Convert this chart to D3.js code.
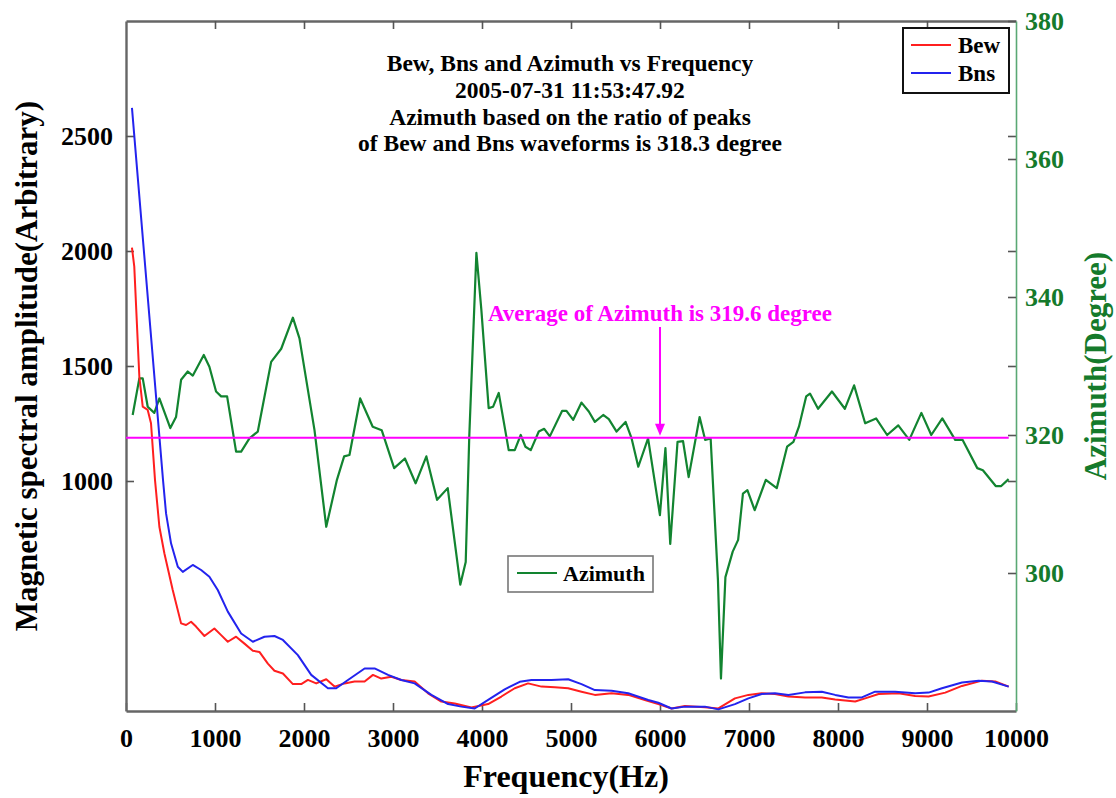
<!DOCTYPE html>
<html>
<head>
<meta charset="utf-8">
<script src="https://cdn.jsdelivr.net/npm/d3@7/dist/d3.min.js"></script>
<style>
  html, body { margin: 0; padding: 0; background: #fff; }
  svg { display: block; }
  text { font-family: "Liberation Serif", "Times New Roman", serif; font-weight: bold; }
</style>
</head>
<body>
<svg id="chart" width="1116" height="798"></svg>
<script>
// ---- Data -------------------------------------------------------------
// East-west magnetic spectral amplitude (Bew)
const bewFreq = [67, 93, 150, 188, 244, 281, 326, 375, 431, 525, 619, 675, 731, 787, 881, 993, 1069, 1144, 1237, 1331,
  1425, 1499, 1594, 1668, 1763, 1875, 1969, 2044, 2137, 2250, 2343, 2456, 2568, 2681, 2775, 2868, 2981, 3093, 3243, 3394,
  3543, 3693, 3881, 4069, 4218, 4368, 4518, 4668, 4818, 4968, 5118, 5268, 5456, 5643, 5830, 5981, 6130, 6280, 6505, 6656,
  6842, 6993, 7143, 7292, 7443, 7630, 7818, 7968, 8193, 8305, 8456, 8681, 8867, 9018, 9205, 9393, 9618, 9767, 9918];
const bew = [2015, 1932, 1453, 1323, 1309, 1251, 1004, 801, 686, 526, 381, 374, 388, 367, 326, 359, 330, 301, 323, 293,
  262, 257, 206, 175, 163, 117, 117, 135, 120, 138, 106, 120, 128, 128, 157, 141, 149, 135, 128, 77,
  41, 33, 15, 30, 63, 99, 120, 106, 103, 99, 84, 70, 77, 70, 48, 30, 11, 22, 16, 11,
  55, 70, 77, 74, 63, 59, 59, 50, 41, 55, 74, 77, 65, 63, 80, 109, 132, 128, 106];

// North-south magnetic spectral amplitude (Bns)
const bnsFreq = [67, 416, 450, 506, 582, 638, 750, 844, 937, 1031, 1144, 1294, 1425, 1556, 1668, 1763, 1931, 2081, 2269,
  2362, 2494, 2681, 2793, 2944, 3093, 3243, 3431, 3619, 3768, 3918, 4069, 4255, 4424, 4556, 4781, 4968, 5118, 5268, 5456,
  5643, 5868, 5981, 6130, 6280, 6505, 6656, 6842, 6993, 7143, 7292, 7443, 7630, 7818, 7968, 8118, 8268, 8417, 8642, 8867,
  9018, 9168, 9393, 9580, 9730, 9918];
const bns = [2622, 1004, 859, 729, 627, 605, 635, 613, 584, 526, 432, 337, 301, 323, 326, 309, 243, 157, 99,
  99, 135, 185, 185, 157, 135, 120, 70, 30, 19, 11, 48, 94, 127, 135, 135, 138, 117, 91, 88,
  77, 48, 36, 11, 19, 19, 7, 30, 55, 74, 77, 70, 81, 84, 70, 59, 59, 84, 84, 77,
  80, 99, 124, 132, 128, 106];

// Azimuth (degree) per frequency
const azFreq = [75, 150, 188, 244, 318, 375, 498, 562, 619, 694, 750, 874, 937, 1012, 1069, 1136, 1237, 1294, 1387, 1481,
  1631, 1744, 1875, 1949, 2118, 2250, 2370, 2451, 2511, 2631, 2772, 2873, 3013, 3134, 3254, 3375, 3495, 3615, 3756, 3817,
  3857, 3937, 3993, 4075, 4125, 4188, 4300, 4368, 4435, 4488, 4548, 4638, 4699, 4762, 4901, 4949, 5025, 5118, 5200, 5268,
  5362, 5425, 5512, 5613, 5681, 5756, 5866, 5999, 6061, 6115, 6197, 6259, 6322, 6445, 6507, 6569, 6651, 6685, 6735, 6817,
  6878, 6932, 6982, 7064, 7189, 7312, 7428, 7499, 7561, 7643, 7685, 7776, 7932, 8077, 8181, 8305, 8428, 8552, 8677, 8801,
  8937, 9048, 9172, 9317, 9399, 9565, 9628, 9772, 9834, 9917];
const azimuth = [322.9, 328.2, 328.2, 324.1, 323.2, 325.3, 321.0, 322.6, 328.0, 329.2, 328.6, 331.6, 329.9, 326.3, 325.6, 325.6, 317.6, 317.6, 319.5, 320.5,
  330.6, 332.5, 337.0, 334.0, 320.7, 306.7, 313.5, 316.9, 317.1, 325.3, 321.2, 320.7, 315.2, 316.6, 313.0, 316.9, 310.6, 312.3, 298.3, 301.6,
  319.8, 346.4, 338.1, 323.9, 324.1, 326.1, 317.8, 317.8, 320.0, 318.3, 317.8, 320.5, 320.9, 319.8, 323.5, 323.5, 322.2, 324.7, 323.4, 321.9,
  322.9, 322.3, 320.5, 321.9, 319.5, 315.4, 319.5, 308.4, 318.1, 304.2, 319.0, 319.1, 313.9, 322.6, 319.3, 319.5, 299.0, 284.7, 299.4, 303.1,
  304.8, 311.5, 312.0, 309.1, 313.5, 312.3, 318.3, 319.0, 321.2, 325.6, 326.0, 323.8, 326.3, 323.8, 327.2, 321.7, 322.4, 320.0, 321.4, 319.3,
  323.2, 320.0, 322.4, 319.3, 319.3, 315.2, 314.9, 312.6, 312.6, 313.6];

const avgAzimuth = 319.6;
const avgMarkFreq = 6000;
const avgEndFreq = 9918;

const xTicks = [0, 1000, 2000, 3000, 4000, 5000, 6000, 7000, 8000, 9000, 10000];
const leftTicks = [1000, 1500, 2000, 2500];
const rightTicks = [300, 320, 340, 360, 380];

const titleLines = [
  "Bew, Bns and Azimuth vs Frequency",
  "2005-07-31 11:53:47.92",
  "Azimuth based on the ratio of peaks",
  "of Bew and Bns waveforms is 318.3 degree"
];
const avgLabel = "Average of Azimuth is 319.6 degree";

// ---- Layout -----------------------------------------------------------
const L = 126, R = 1016, T = 21, B = 711;
const boxColor = "#666";
const axisGreen = "#5aa874";
const textGreen = "#157a2b";
const azColor = "#128430";
const bewColor = "#ff1f1f";
const bnsColor = "#2323ee";
const magenta = "#ff00ff";

const svg = d3.select("#chart");

const x = d3.scaleLinear().domain([0, 10000]).range([L, R]);
const yL = d3.scaleLinear().domain([0, 3000]).range([B, T]);
const yR = d3.scaleLinear().domain([280, 380]).range([B, T]);

// ---- Axes -------------------------------------------------------------
function styleAxis(g, color, labelColor, size) {
  g.select(".domain").attr("stroke", color).attr("stroke-width", 2.4);
  g.selectAll(".tick line").attr("stroke", "#555").attr("stroke-width", 1.6);
  g.selectAll(".tick text")
    .attr("fill", labelColor)
    .style("font-size", size + "px")
    .style("font-family", "'Liberation Serif', serif")
    .style("font-weight", "bold");
}

// top edge (ticks only)
svg.append("g")
  .attr("transform", `translate(0,${T})`)
  .call(d3.axisTop(x).tickValues(xTicks.slice(1, -1)).tickSize(-8).tickSizeOuter(0).tickFormat(""))
  .call(g => styleAxis(g, boxColor, "#000", 26));

// mirrored left-axis ticks on the right edge
svg.append("g")
  .attr("transform", `translate(${R},0)`)
  .call(d3.axisRight(yL).tickValues(leftTicks).tickSize(-8).tickSizeOuter(0).tickFormat(""))
  .call(g => { styleAxis(g, boxColor, "#000", 26); g.select(".domain").remove(); });

// bottom axis
svg.append("g")
  .attr("transform", `translate(0,${B})`)
  .call(d3.axisBottom(x).tickValues(xTicks).tickSize(-8).tickSizeOuter(0).tickPadding(18).tickFormat(d3.format("d")))
  .call(g => styleAxis(g, boxColor, "#000", 26));

// left axis
svg.append("g")
  .attr("transform", `translate(${L},0)`)
  .call(d3.axisLeft(yL).tickValues(leftTicks).tickSize(-8).tickSizeOuter(0).tickPadding(13).tickFormat(d3.format("d")))
  .call(g => styleAxis(g, boxColor, "#000", 26));

// right axis (azimuth)
svg.append("g")
  .attr("transform", `translate(${R},0)`)
  .call(d3.axisRight(yR).tickValues(rightTicks).tickSize(-8).tickSizeOuter(0).tickPadding(9).tickFormat(d3.format("d")))
  .call(g => { styleAxis(g, axisGreen, textGreen, 26); g.select(".domain").attr("stroke-width", 1.6); });

// ---- Curves -----------------------------------------------------------
const ampLine = d3.line().x(d => x(d[0])).y(d => yL(d[1]));
const azLine = d3.line().x(d => x(d[0])).y(d => yR(d[1]));

svg.append("path")
  .datum(d3.zip(azFreq, azimuth))
  .attr("d", azLine)
  .attr("fill", "none").attr("stroke", azColor).attr("stroke-width", 2.2)
  .attr("stroke-linejoin", "round");

svg.append("path")
  .datum(d3.zip(bewFreq, bew))
  .attr("d", ampLine)
  .attr("fill", "none").attr("stroke", bewColor).attr("stroke-width", 2)
  .attr("stroke-linejoin", "round");

svg.append("path")
  .datum(d3.zip(bnsFreq, bns))
  .attr("d", ampLine)
  .attr("fill", "none").attr("stroke", bnsColor).attr("stroke-width", 2)
  .attr("stroke-linejoin", "round");

// average azimuth line
svg.append("line")
  .attr("x1", x(0)).attr("x2", x(avgEndFreq))
  .attr("y1", yR(avgAzimuth)).attr("y2", yR(avgAzimuth))
  .attr("stroke", magenta).attr("stroke-width", 2.2);

// annotation arrow and text
const ax = x(avgMarkFreq), tipY = yR(avgAzimuth) - 2;
svg.append("line")
  .attr("x1", ax).attr("x2", ax).attr("y1", 327).attr("y2", tipY - 10)
  .attr("stroke", magenta).attr("stroke-width", 2);
svg.append("path")
  .attr("d", `M${ax - 5},${tipY - 12} L${ax + 5},${tipY - 12} L${ax},${tipY} Z`)
  .attr("fill", magenta);
svg.append("text")
  .attr("x", ax).attr("y", 321)
  .attr("text-anchor", "middle")
  .attr("fill", magenta)
  .style("font-size", "23px")
  .text(avgLabel);

// ---- Title ------------------------------------------------------------
const titleBase = [71, 98, 125, 151];
svg.append("g").selectAll("text")
  .data(titleLines)
  .join("text")
  .attr("x", 570)
  .attr("y", (d, i) => titleBase[i])
  .attr("text-anchor", "middle")
  .attr("fill", "#000")
  .style("font-size", "23.5px")
  .text(d => d);

// ---- Axis titles ------------------------------------------------------
svg.append("text")
  .attr("x", 566).attr("y", 787)
  .attr("text-anchor", "middle")
  .style("font-size", "32px")
  .text("Frequency(Hz)");

svg.append("text")
  .attr("transform", `translate(37,${(T + B) / 2}) rotate(-90)`)
  .attr("text-anchor", "middle")
  .style("font-size", "31px")
  .text("Magnetic spectral amplitude(Arbitrary)");

svg.append("text")
  .attr("transform", `translate(1106,${(T + B) / 2}) rotate(-90)`)
  .attr("text-anchor", "middle")
  .attr("fill", textGreen)
  .style("font-size", "31px")
  .text("Azimuth(Degree)");

// ---- Legends ----------------------------------------------------------
const legAmp = svg.append("g");
legAmp.append("rect")
  .attr("x", 903).attr("y", 28).attr("width", 106).attr("height", 65)
  .attr("fill", "#fff").attr("stroke", "#111").attr("stroke-width", 2);
[["Bew", bewColor, 45], ["Bns", bnsColor, 73]].forEach(([name, color, ly]) => {
  legAmp.append("line").attr("x1", 911).attr("x2", 951).attr("y1", ly).attr("y2", ly)
    .attr("stroke", color).attr("stroke-width", 2);
  legAmp.append("text").attr("x", 958).attr("y", ly).attr("dy", "0.35em")
    .style("font-size", "23px").text(name);
});

const legAz = svg.append("g");
legAz.append("rect")
  .attr("x", 508).attr("y", 556).attr("width", 145).attr("height", 36)
  .attr("fill", "#fff").attr("stroke", "#777").attr("stroke-width", 1.6);
legAz.append("line").attr("x1", 517).attr("x2", 557).attr("y1", 573).attr("y2", 573)
  .attr("stroke", azColor).attr("stroke-width", 2.2);
legAz.append("text").attr("x", 563).attr("y", 573).attr("dy", "0.35em")
  .style("font-size", "22px").text("Azimuth");
</script>
</body>
</html>
